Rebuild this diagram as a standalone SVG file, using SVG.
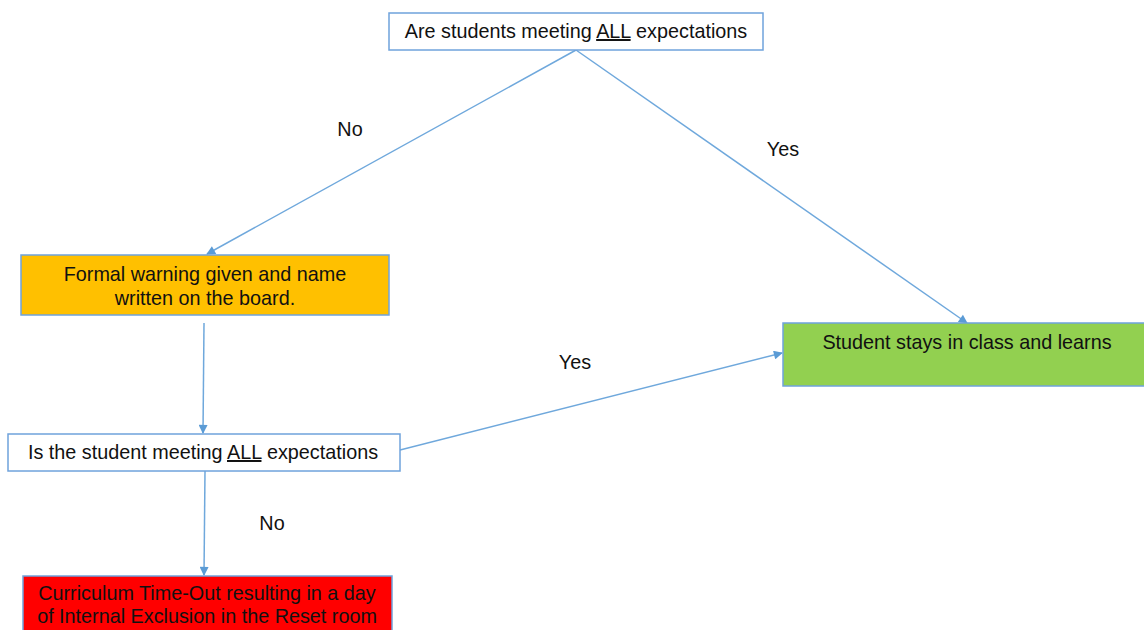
<svg xmlns="http://www.w3.org/2000/svg" width="1144" height="630" viewBox="0 0 1144 630">
<style>
.box{stroke:#6fa3dc;stroke-width:1.5}
.t{font-family:"Liberation Sans",Arial,sans-serif;font-size:19.8px;fill:#111;text-anchor:middle}
.lbl{font-family:"Liberation Sans",Arial,sans-serif;font-size:19.8px;fill:#111;text-anchor:middle}
.c{stroke:#6fa8dc;stroke-width:1.5;fill:none;marker-end:url(#ah)}
</style>
<defs>
<marker id="ah" viewBox="0 0 10 10" refX="9" refY="5" markerWidth="10" markerHeight="9" markerUnits="userSpaceOnUse" orient="auto">
<path d="M0,0 L10,5 L0,10 z" fill="#5b9bd5"/>
</marker>
</defs>
<rect width="1144" height="630" fill="#ffffff"/>
<g id="connectors">
<line class="c" x1="576" y1="50" x2="207" y2="254"/>
<line class="c" x1="576" y1="50" x2="967" y2="323"/>
<line class="c" x1="204" y1="323" x2="203" y2="433"/>
<line class="c" x1="400" y1="450" x2="782" y2="353"/>
<line class="c" x1="205" y1="471" x2="204" y2="575"/>
<text class="lbl" x="350" y="136">No</text>
<text class="lbl" x="783" y="156">Yes</text>
<text class="lbl" x="575" y="369">Yes</text>
<text class="lbl" x="272" y="530">No</text>
</g>
<g id="q1">
<rect class="box" x="389" y="13" width="374" height="37" fill="#ffffff"/>
<text class="t" x="576" y="38">Are students meeting <tspan text-decoration="underline">ALL</tspan> expectations</text>
</g>
<g id="warning">
<rect class="box" x="21" y="255" width="368" height="60" fill="#ffc000"/>
<text class="t" x="205" y="281">Formal warning given and name</text>
<text class="t" x="205" y="305">written on the board.</text>
</g>
<g id="q2">
<rect class="box" x="8" y="434" width="392" height="37" fill="#ffffff"/>
<text class="t" x="203" y="459">Is the student meeting <tspan text-decoration="underline">ALL</tspan> expectations</text>
</g>
<g id="stay">
<rect class="box" x="783" y="323" width="365" height="63" fill="#92d050"/>
<text class="t" x="967" y="349">Student stays in class and learns</text>
</g>
<g id="timeout">
<rect class="box" x="23" y="576" width="369" height="60" fill="#ff0000"/>
<text class="t" x="207" y="600">Curriculum Time-Out resulting in a day</text>
<text class="t" x="207" y="623">of Internal Exclusion in the Reset room</text>
</g>
</svg>
